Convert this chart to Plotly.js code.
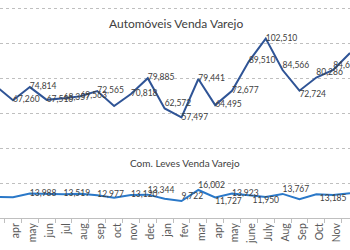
<!DOCTYPE html>
<html>
<head>
<meta charset="utf-8">
<script src="https://cdn.plot.ly/plotly-3.0.1.min.js"></script>
<style>html,body{margin:0;padding:0;background:#fff;}#chart{width:350px;height:250px;}</style>
</head>
<body>
<div id="chart"></div>
<script>
var months = ["mar","apr","may","jun","jul","aug","sep","oct","nov","dec","jan","fev","mar","apr","may","june","July","Aug","Sep","Oct","Nov","Dec"];
var autoValues = [75200,67260,74814,67510,68357,69563,72565,64000,70818,79885,62572,57497,79441,64495,72677,89510,102510,84566,72724,80286,84654,94300];
var autoLabels = ["","67,260","74,814","67,510","68,357","69,563","72,565","","70,818","79,885","62,572","57,497","79,441","64,495","72,677","89,510","102,510","84,566","72,724","80,286","84,654",""];
var comValues = [12100,11900,13988,13600,13519,13900,12977,11600,13120,13344,11000,9722,16002,11727,13923,13000,11950,13767,10700,13500,13185,14200];
var comLabels = ["","","13,988","","13,519","","12,977","","13,120","13,344","","9,722","16,002","11,727","13,923","","11,950","13,767","","","13,185",""];
var autoTitle = "Automóveis Venda Varejo";
var comTitle = "Com. Leves Venda Varejo";

var idx = months.map(function(_, i){ return i; });

var autoPos = ["middle right","middle right","middle right","middle right","middle right","middle right","middle right","middle right","middle right","middle right","top right","middle right","middle right","middle right","middle right","middle right","middle right","top right","bottom right","top right","top right","middle right"];
var comPos = ["middle right","middle right","middle right","middle right","middle right","middle right","middle right","middle right","middle right","top right","middle right","top right","top right","bottom right","middle right","middle right","bottom center","top right","middle right","middle right","bottom center","middle right"];

var labelFont = {family: "Lato, 'Liberation Sans', sans-serif", size: 8.5, color: "#404040"};

var traces = [
  {x: idx, y: autoValues, text: autoLabels, mode: "lines+text", textposition: autoPos,
   textfont: labelFont, line: {color: "#2f5496", width: 2}, cliponaxis: false, hoverinfo: "none"},
  {x: idx, y: comValues, text: comLabels, mode: "lines+text", textposition: comPos,
   textfont: labelFont, line: {color: "#2a78c8", width: 2}, cliponaxis: false, hoverinfo: "none"}
];

var layout = {
  width: 350, height: 250,
  margin: {l: 0, r: 0, t: 0, b: 32, pad: 0},
  paper_bgcolor: "#ffffff", plot_bgcolor: "#ffffff",
  showlegend: false,
  xaxis: {
    range: [0.2285, 21.0], tickmode: "array", tickvals: idx, ticktext: months,
    tickangle: -90, ticks: "", showgrid: false, zeroline: false, ticklabelshift: 3,
    showline: true, linecolor: "#bfbfbf", linewidth: 1,
    tickfont: {family: "Lato, 'Liberation Sans', sans-serif", size: 10.5, color: "#595959"},
    minor: {tick0: 0.5, dtick: 1, ticks: "outside", ticklen: 4, tickcolor: "#bfbfbf", showgrid: false}
  },
  yaxis: {
    range: [0, 124571], dtick: 20000, tick0: 0, showticklabels: false, ticks: "",
    showgrid: true, gridcolor: "#bfbfbf", griddash: "dot", gridwidth: 1, zeroline: false
  },
  annotations: [
    {text: autoTitle, xref: "paper", yref: "paper", x: 175.5/350, y: (218-23)/218, xanchor: "center", yanchor: "middle",
     showarrow: false, font: {family: "Lato, 'Liberation Sans', sans-serif", size: 12, color: "#404040"}},
    {text: comTitle, xref: "paper", yref: "paper", x: 184.5/350, y: (218-163)/218, xanchor: "center", yanchor: "middle",
     showarrow: false, font: {family: "Lato, 'Liberation Sans', sans-serif", size: 10, color: "#404040"}}
  ]
};

Plotly.newPlot("chart", traces, layout, {displayModeBar: false, staticPlot: true});
</script>
</body>
</html>
